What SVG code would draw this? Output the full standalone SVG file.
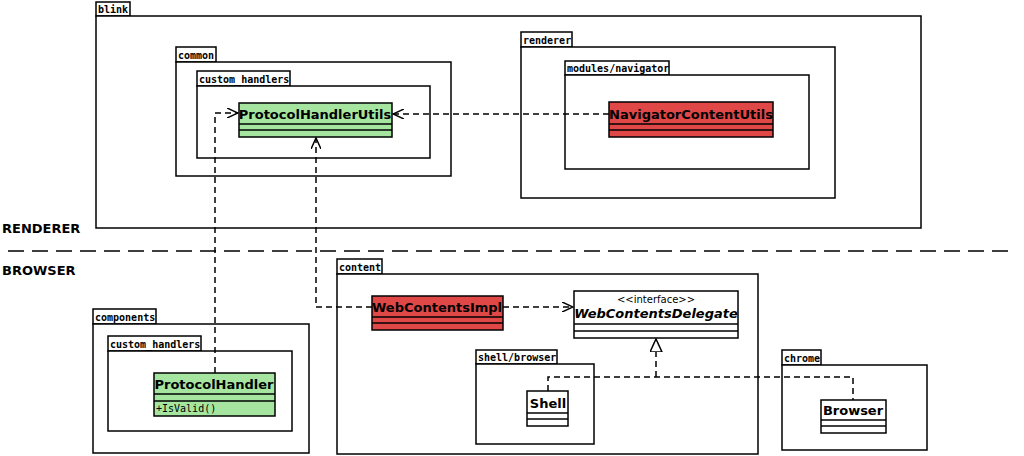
<svg xmlns="http://www.w3.org/2000/svg" width="1024" height="456" viewBox="0 0 1024 456">
<style>
.p{fill:#fff;stroke:#000;stroke-width:1.5}
.t{font-family:"DejaVu Sans Mono",monospace;font-size:10px;font-weight:bold}
.c{stroke:#000;stroke-width:1.5}
.g{fill:#a6e5a0}.r{fill:#e04848}.w{fill:#fff}
.n{font-family:"DejaVu Sans",sans-serif;font-size:13px;font-weight:bold;text-anchor:middle}
.d{fill:none;stroke:#000;stroke-width:1.5;stroke-dasharray:6,4}
.big{font-family:"DejaVu Sans",sans-serif;font-size:13px;font-weight:bold}
</style>
<defs>
<marker id="o" markerWidth="12" markerHeight="10" refX="11" refY="5" orient="auto" markerUnits="userSpaceOnUse"><path d="M0,0 L11,5 L0,10" fill="none" stroke="#000" stroke-width="1.5"/></marker>
<marker id="tri" markerWidth="14" markerHeight="14" refX="13" refY="6" orient="auto" markerUnits="userSpaceOnUse"><path d="M0,0 L13,6 L0,12 Z" fill="#fff" stroke="#000" stroke-width="1.5"/></marker>
</defs>
<g id="pkg-blink"><rect class="p" x="96" y="2" width="34" height="14"/><text class="t" x="98" y="13">blink</text><rect class="p" x="96" y="16" width="825" height="212"/></g>
<g id="pkg-common"><rect class="p" x="176" y="47" width="40" height="15"/><text class="t" x="178" y="59">common</text><rect class="p" x="176" y="62" width="275" height="114"/></g>
<g id="pkg-ch1"><rect class="p" x="197" y="71" width="93" height="15"/><text class="t" x="199" y="83">custom_handlers</text><rect class="p" x="197" y="86" width="233" height="72"/></g>
<g id="pkg-renderer"><rect class="p" x="521" y="32" width="51" height="15"/><text class="t" x="523" y="44">renderer</text><rect class="p" x="521" y="47" width="314" height="151"/></g>
<g id="pkg-nav"><rect class="p" x="565" y="61" width="104" height="14"/><text class="t" x="567" y="72">modules/navigator</text><rect class="p" x="565" y="75" width="244" height="94"/></g>
<g id="phu"><rect class="c g" x="239" y="103" width="153" height="34"/><line class="c" x1="239" y1="124" x2="392" y2="124"/><line class="c" x1="239" y1="130" x2="392" y2="130"/><text class="n" x="315" y="119">ProtocolHandlerUtils</text></g>
<g id="ncu"><rect class="c r" x="609" y="102" width="164" height="35"/><line class="c" x1="609" y1="124" x2="773" y2="124"/><line class="c" x1="609" y1="130" x2="773" y2="130"/><text class="n" x="691" y="119">NavigatorContentUtils</text></g>
<text class="big" x="2" y="233">RENDERER</text>
<line x1="8" y1="251" x2="1016" y2="251" stroke="#000" stroke-width="1.5" stroke-dasharray="16,8"/>
<text class="big" x="2" y="275">BROWSER</text>
<g id="pkg-content"><rect class="p" x="337" y="259" width="45" height="15"/><text class="t" x="339" y="271">content</text><rect class="p" x="337" y="274" width="421" height="180"/></g>
<g id="pkg-shell"><rect class="p" x="476" y="350" width="81" height="14"/><text class="t" x="478" y="361">shell/browser</text><rect class="p" x="476" y="364" width="118" height="80"/></g>
<g id="pkg-chrome"><rect class="p" x="782" y="350" width="39" height="15"/><text class="t" x="784" y="362">chrome</text><rect class="p" x="782" y="365" width="145" height="85"/></g>
<g id="pkg-components"><rect class="p" x="93" y="309" width="63" height="15"/><text class="t" x="95" y="321">components</text><rect class="p" x="93" y="324" width="216" height="129"/></g>
<g id="pkg-ch2"><rect class="p" x="108" y="336" width="93" height="15"/><text class="t" x="110" y="348">custom_handlers</text><rect class="p" x="108" y="351" width="184" height="80"/></g>
<g id="wci"><rect class="c r" x="372" y="296" width="131" height="34"/><line class="c" x1="372" y1="317" x2="503" y2="317"/><line class="c" x1="372" y1="323" x2="503" y2="323"/><text class="n" x="437" y="312">WebContentsImpl</text></g>
<g id="wcd"><rect class="c w" x="574" y="291" width="164" height="47"/><line class="c" x1="574" y1="324" x2="738" y2="324"/><line class="c" x1="574" y1="331" x2="738" y2="331"/><text x="656" y="303" font-family="DejaVu Sans,sans-serif" font-size="10" text-anchor="middle">&lt;&lt;interface&gt;&gt;</text><text class="n" x="656" y="318" font-style="italic">WebContentsDelegate</text></g>
<g id="shell"><rect class="c w" x="527" y="391" width="41" height="35"/><line class="c" x1="527" y1="413" x2="568" y2="413"/><line class="c" x1="527" y1="419" x2="568" y2="419"/><text class="n" x="548" y="408">Shell</text></g>
<g id="browser"><rect class="c w" x="821" y="400" width="65" height="33"/><line class="c" x1="821" y1="420" x2="886" y2="420"/><line class="c" x1="821" y1="426" x2="886" y2="426"/><text class="n" x="853" y="415">Browser</text></g>
<g id="ph"><rect class="c g" x="154" y="373" width="121" height="43"/><line class="c" x1="154" y1="394" x2="275" y2="394"/><line class="c" x1="154" y1="401" x2="275" y2="401"/><text class="n" x="214" y="389">ProtocolHandler</text><text x="156" y="412" font-family="DejaVu Sans Mono,monospace" font-size="10">+IsValid()</text></g>
<g id="connectors">
<path class="d" d="M215,373 V113 H238" marker-end="url(#o)"/>
<path class="d" d="M372,307 H316 V138" marker-end="url(#o)"/>
<path class="d" d="M609,114 H393" marker-end="url(#o)"/>
<path class="d" d="M503,307 H573" marker-end="url(#o)"/>
<path class="d" d="M548,391 V377 H853 V400"/>
<path class="d" d="M656,377 V339" marker-end="url(#tri)"/>
</g>
</svg>
